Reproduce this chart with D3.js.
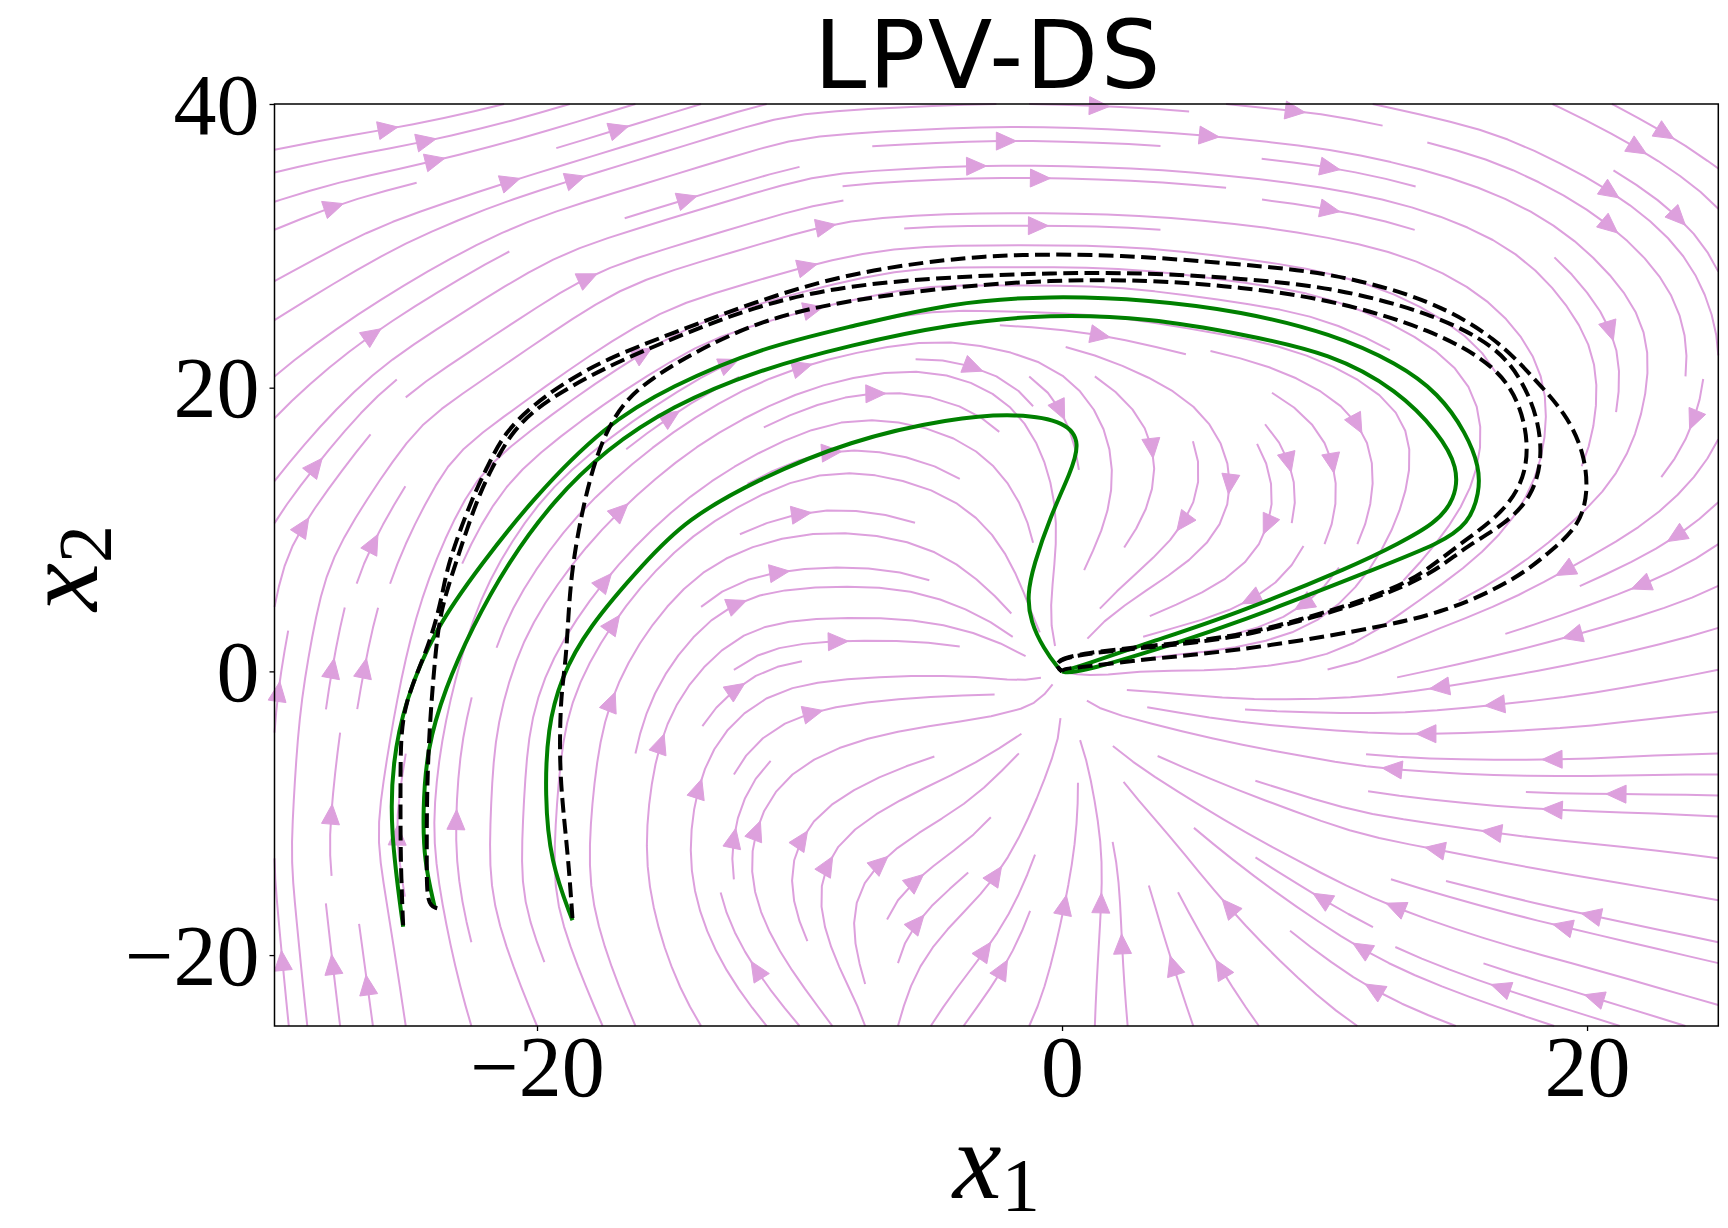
<!DOCTYPE html>
<html>
<head>
<meta charset="utf-8">
<script src="https://cdn.jsdelivr.net/npm/d3@7"></script>
<style>
  body { margin: 0; background: #fff; }
</style>
</head>
<body>
<div id="chart"></div>
<script>
// axes
const xDomain = [-30, 25];
const yDomain = [-25, 40];
const xTicks = [-20, 0, 20];
const yTicks = [-20, 0, 20, 40];

// demonstrations (green)
const demo1 = [[-25.1,-18.0],[-25.6,-11.1],[-25.5,-6.4],[-25.05,-2.2],[-23.9,3.0],[-22.1,7.6],[-20.2,12.1],[-17.4,17.4],[-14.9,20.1],[-11.5,22.8],[-8.06,24.3],[-4.25,26.0],[-0.45,26.5],[3.36,26.2],[6.8,25.4],[10.3,23.8],[12.8,21.7],[14.35,19.6],[15.4,16.8],[15.9,14.4],[15.9,12.6],[15.5,10.4],[14.35,9.0],[12.3,7.5],[6.5,3.25],[2.09,0.66],[0.32,-0.16],[0,0]];
const demo2 = [[-23.9,-16.6],[-24.3,-13.4],[-24.35,-9.9],[-24.2,-5.45],[-23.5,-1.2],[-22.5,3.0],[-21.1,7.7],[-19.35,12.1],[-17.4,15.6],[-14.9,18.7],[-11.5,21.3],[-8.06,23.0],[-4.25,24.5],[-0.45,25.2],[3.36,24.9],[6.8,23.8],[10.3,22.4],[12.8,19.8],[14.35,16.8],[15.1,14.4],[14.98,12.1],[14.2,10.4],[12.8,9.0],[11.2,7.5],[6.5,3.96],[3.36,2.07],[0.82,0.43],[0,0]];
const demo3 = [[-18.65,-17.55],[-19.5,-13.4],[-19.7,-8.7],[-19.6,-4.0],[-19.1,-0.5],[-18.1,3.0],[-15.9,7.7],[-14.3,10.7],[-11.7,13.45],[-8.06,16.3],[-4.25,17.85],[-1.7,18.2],[0.19,17.6],[0.7,16.1],[0.32,14.0],[-0.45,10.9],[-1.08,7.5],[-1.33,5.4],[-1.2,3.5],[-0.7,1.6],[-0.13,0.19],[0,0]];

// reproductions (black dashed)
const repro1 = [[-25.1,-17.9],[-25.2,-13.4],[-25.2,-8.7],[-25.2,-4.5],[-25.0,-2.2],[-24.5,0.2],[-24.0,2.5],[-23.6,5.4],[-23.4,7.6],[-22.5,12.1],[-21.9,14.4],[-21.25,16.8],[-20.2,18.7],[-19.0,20.3],[-17.4,22.0],[-14.9,23.8],[-11.5,26.2],[-8.06,28.1],[-4.25,29.1],[-1.7,29.4],[2.1,29.4],[6.8,28.7],[10.3,28.1],[14.1,26.2],[16.6,23.4],[17.9,20.8],[19.2,18.2],[19.9,15.4],[20.05,12.6],[19.7,10.2],[18.5,8.3],[17.3,6.5],[14.7,4.2],[11.55,2.9],[6.48,1.4],[3.36,0.9],[0.82,0.31],[0.06,0.19],[0,0]];
const repro2 = [[-23.8,-16.7],[-24.2,-16.5],[-24.2,-13.4],[-24.2,-8.7],[-24.1,-4.0],[-23.9,0.66],[-23.7,4.2],[-23.1,7.6],[-22.3,12.1],[-21.7,14.4],[-21.0,16.8],[-20.0,18.6],[-18.8,20.0],[-17.2,21.6],[-14.8,23.5],[-11.5,25.9],[-8.06,27.25],[-4.25,27.8],[-0.45,28.1],[3.36,28.1],[6.8,27.7],[10.3,27.1],[14.1,25.25],[16.6,22.9],[17.6,20.3],[18.15,17.7],[18.3,14.9],[17.9,12.3],[16.9,10.4],[15.4,8.8],[14.6,7.6],[13.45,6.3],[11.55,4.9],[9.0,3.5],[6.48,2.3],[3.36,1.7],[0.82,1.25],[-0.19,0.78],[-0.2,0.3],[0,0]];
const repro3 = [[-18.65,-17.4],[-18.8,-13.4],[-19.0,-9.9],[-19.15,-6.4],[-19.1,-1.7],[-18.9,0.66],[-18.8,4.2],[-18.65,7.6],[-18.2,12.1],[-17.6,16.1],[-16.7,19.1],[-15.5,20.8],[-14.3,22.2],[-11.5,24.8],[-8.06,26.2],[-4.25,27.1],[-0.45,27.6],[3.36,27.6],[6.8,27.1],[10.3,26.2],[14.1,24.1],[16.6,21.5],[17.5,18.7],[17.8,15.6],[17.5,13.0],[16.6,10.9],[15.4,9.3],[14.2,7.6],[13.3,6.4],[11.5,5.0],[9.0,3.6],[6.48,2.4],[3.36,1.8],[0.82,1.3],[-0.2,0.8],[-0.2,0.3],[0,0]];

// flow direction of the stream field read at points of the figure: [x1, x2, screen angle in degrees]
const flowSamples = [
  [-28.35,38.9,8],[-25.5,38.1,8],[-23.9,37.0,12],[-22.3,35.6,15],[-19.4,34.8,17],[-16.2,35.1,17],
  [-29.5,34.0,14],[-29.5,27.4,27],[-27.8,28.4,33],[-22.6,29.9,30],[-22.0,25.6,32],[-21.6,22.8,35],
  [-28.7,21.9,40],[-12.1,30.4,18],[-28.6,15.6,50],[-26.95,11.2,57],[-16.3,13.6,42],[-17.25,9.0,45],
  [-11.9,12.6,35],[-19.1,18.6,37],[-16.1,20.1,30],[-20.2,8.4,58],
  [-4.25,38.4,2],[2.47,39.1,-3],[1.2,37.5,-2],[-6.4,35.0,4],[-1.53,34.3,0],[6.15,39.8,-5],
  [-11.6,29.6,15],[-1.6,29.1,0],[2.6,20.8,-5],[-2.7,16.8,-5],[-5.1,15.2,0],[-4.7,13.5,-25],
  [-7.6,11.8,-5],[-8.05,8.5,0],[0.8,14.6,-95],[1.6,13.7,-115],[3.9,13.2,-130],[5.3,12.1,-140],
  [4.5,9.1,-145],[-1.3,14.4,-85],[-1.46,15.4,-60],[-3.0,11.5,-55],[-5.5,10.9,-18],[-10.6,16.8,25],
  [-8.1,23.8,12],[5.0,23.8,-8],[-0.45,26.5,0],[6.15,25.7,-10],[3.4,32.1,-3],[6.8,36.8,-7],
  [2.2,15.8,-60],[3.6,16.9,-20],[5.0,14.6,-90],
  [22.1,38.6,-28],[21.5,36.9,-28],[19.9,36.2,-22],[19.2,34.6,-28],[11.4,31.2,-10],[21.2,29.6,-45],
  [18.2,26.1,-50],[24.2,13.7,-140],[11.55,12.8,-70],[11.2,22.1,-25],[22.7,33.2,-45],[24.75,26.2,-70],
  [24.9,19.2,-95],[21.3,19.2,-95],[22.7,16.9,-105],[19.2,23.9,-60],[19.2,16.8,-95],[22.7,12.1,-145],
  [6.5,25.3,-5],[14.1,21.5,-30],[15.35,16.8,-80],[14.7,11.2,-125],[13.6,8.6,-150],[8.4,19.9,-15],
  [6.5,16.2,-25],[7.75,14.9,-45],[8.4,12.8,-95],[8.1,10.7,-120],[9.5,13.7,-45],[10.4,10.9,-90],
  [10.0,8.3,-130],[12.0,10.0,-95],[11.7,7.9,-115],[17.5,5.5,-155],[20.0,9.5,-148],[16.8,14.0,-95],
  [16.6,10.5,-135],[15.4,33.2,-18],[15.4,28.5,-28],[14.0,38.5,-12],
  [-29.7,3.1,80],[-26.4,2.4,80],[-24.4,6.4,70],[-26.3,-4.5,80],[-29.8,-6.4,88],[-21.0,-9.2,88],
  [-24.4,-17.6,100],[-20.4,-20.8,110],[-18.8,-22.3,115],[-16.0,-1.7,72],[-15.6,-7.1,85],[-14.5,-9.7,90],
  [-12.9,-10.9,90],[-19.5,-11.1,88],[-29.1,-20.5,95],[-13.6,2.0,45],[-12.4,-4.0,25],[-12.6,-7.6,60],
  [-13.6,-17.0,110],[-11.7,-20.5,120],[-17.4,-8.7,80],[-16.2,-15.8,100],[-26.0,-23.0,98],[-22.0,0.0,75],
  [-18.0,3.5,55],
  [-10.2,5.9,8],[-8.75,4.1,0],[-6.8,2.3,-5],[-3.0,1.8,-10],[-8.6,-2.4,8],[-4.25,-1.2,5],
  [-7.9,-6.5,17],[-8.9,-9.2,28],[-6.4,-9.9,25],[-7.6,-12.9,30],[-5.8,-13.0,30],[-5.1,-15.7,37],
  [-4.25,-19.3,45],[-0.32,-13.9,65],[-0.32,-19.3,70],[1.45,-18.96,88],[3.35,-22.1,95],[4.75,-19.3,118],
  [6.15,-16.5,132],[6.3,5.2,-160],[4.0,4.4,-155],[0.8,2.3,-140],[4.5,-3.6,168],[4.5,-7.6,155],
  [3.35,-11.1,129],[1.59,-15.1,90],[-1.33,-6.86,50],[0.56,-6.4,92],[-10.7,-13.0,92],[-9.9,-21.0,145],
  [-9.9,-18.1,140],[-8.2,-19.6,125],[-4.0,-23.8,55],[-2.7,5.8,-40],[-1.14,5.6,-70],[0.57,7.0,-125],
  [0.6,3.95,-130],[4.6,-0.75,180],[3.4,-1.65,165],[-6.8,0.2,2],[-3.0,-0.7,12],[-8.5,-17.3,92],
  [-8.06,-15.6,45],[-10.3,-15.8,115],[-10.0,-10.3,35],[-1.8,0.5,-10],[2.2,-0.3,175],
  [21.8,7.3,-160],[14.7,3.6,-165],[15.5,1.5,-167],[21.3,1.8,-165],[19.9,0.1,-168],[15.9,-3.1,-176],
  [21.0,-2.0,-172],[18.3,-4.6,180],[13.1,-5.6,178],[22.2,-7.3,179],[18.3,-8.4,177],[14.5,-10.3,173],
  [13.5,-12.2,170],[17.3,-16.0,168],[22.3,-16.4,170],[15.2,-17.4,162],[13.1,-19.1,155],[10.6,-20.1,145],
  [7.7,-22.4,125],[14.9,-22.6,160],[21.3,-23.2,162],[9.2,6.8,-155],[11.3,6.1,-155],[8.5,1.0,-172],
  [8.5,-2.5,178],[8.9,-7.8,165],[8.4,-11.8,155],[9.0,-16.7,150]
];

const margin = { top: 104, left: 274.5 };
const width = 1443.8;
const height = 922;

const svg = d3.select("#chart")
  .append("svg")
  .attr("width", 1728)
  .attr("height", 1228);

const g = svg.append("g").attr("transform", `translate(${margin.left},${margin.top})`);

const x = d3.scaleLinear().domain(xDomain).range([0, width]);
const y = d3.scaleLinear().domain(yDomain).range([height, 0]);

// ---- direction field on a fine grid (axes fractions), screen-space vectors ----
const GN = 221;
const gu = new Float64Array(GN * GN);
const gv = new Float64Array(GN * GN);
const samplesPx = flowSamples.map(([sx, sy, a]) => [x(sx), y(sy), Math.cos(a * Math.PI / 180), Math.sin(a * Math.PI / 180)]);
const ox = x(0), oy = y(0);
const sig2 = 2 * 50 * 50;
for (let j = 0; j < GN; j++) {
  const py = height * (1 - j / (GN - 1));
  for (let i = 0; i < GN; i++) {
    const px = width * i / (GN - 1);
    let su = 0, sv = 0, sw = 0;
    for (const s of samplesPx) {
      const dx = px - s[0], dy = py - s[1];
      const w = Math.exp(-(dx * dx + dy * dy) / sig2);
      su += w * s[2]; sv += w * s[3]; sw += w;
    }
    if (sw > 1e-200) { su /= sw; sv /= sw; }
    // pull into the attractor at the origin
    const rx = ox - px, ry = py - oy;
    const r = Math.hypot(rx, ry);
    if (r > 0) {
      const wr = 3 * Math.exp(-r * r / (2 * 22 * 22));
      su += wr * rx / r; sv += wr * ry / r;
    }
    gu[j * GN + i] = su; gv[j * GN + i] = sv;
  }
}

const OUT = 1, STOP = 2;
const oxA = ox / width, oyA = 1 - oy / height;
function flow(ax, ay, sgn) {
  if (ax < 0 || ax > 1 || ay < 0 || ay > 1) return OUT;
  if (Math.hypot((ax - oxA) * width, (ay - oyA) * height) < 2) return STOP;
  const fx = ax * (GN - 1), fy = ay * (GN - 1);
  const i0 = Math.min(GN - 2, Math.floor(fx)), j0 = Math.min(GN - 2, Math.floor(fy));
  const tx = fx - i0, ty = fy - j0;
  const k = j0 * GN + i0;
  const u = (gu[k] * (1 - tx) + gu[k + 1] * tx) * (1 - ty) + (gu[k + GN] * (1 - tx) + gu[k + GN + 1] * tx) * ty;
  const v = (gv[k] * (1 - tx) + gv[k + 1] * tx) * (1 - ty) + (gv[k + GN] * (1 - tx) + gv[k + GN + 1] * tx) * ty;
  const du = u / width, dv = v / height;
  const s = Math.hypot(du, dv);
  if (s < 1e-12) return STOP;
  return [sgn * du / s, sgn * dv / s];
}

// ---- streamplot in the matplotlib manner ----
const NX = 45, NY = 45;
const mask = new Uint8Array(NX * NY);
let traj = [], cur = null;
function maskIdx(ax, ay) { return [Math.floor(ax * (NX - 1) + 0.5), Math.floor(ay * (NY - 1) + 0.5)]; }
function updateTraj(ax, ay) {
  if (ax < 0 || ax > 1 || ay < 0 || ay > 1) return false;
  const [xm, ym] = maskIdx(ax, ay);
  if (cur && cur[0] === xm && cur[1] === ym) return true;
  const id = ym * NX + xm;
  if (mask[id] === 0) { traj.push(id); mask[id] = 1; cur = [xm, ym]; return true; }
  return false;
}

function rk12(x0, y0, sgn) {
  const maxerror = 0.003, maxds = Math.min(1 / NX, 1 / NY, 0.1), maxlength = 4;
  let ds = maxds, stotal = 0, xi = x0, yi = y0;
  const pts = [];
  for (let it = 0; it < 20000; it++) {
    pts.push([xi, yi]);
    const k1 = flow(xi, yi, sgn);
    if (k1 === STOP || k1 === OUT) break;
    const k2 = flow(xi + ds * k1[0], yi + ds * k1[1], sgn);
    if (k2 === OUT) {
      const cx = k1[0], cy = k1[1];
      const dsx = cx === 0 ? Infinity : (cx < 0 ? xi / -cx : (1 - xi) / cx);
      const dsy = cy === 0 ? Infinity : (cy < 0 ? yi / -cy : (1 - yi) / cy);
      const d = Math.min(dsx, dsy);
      pts.push([xi + cx * d, yi + cy * d]);
      stotal += d;
      break;
    }
    if (k2 === STOP) break;
    const dx1 = ds * k1[0], dy1 = ds * k1[1];
    const dx2 = ds * 0.5 * (k1[0] + k2[0]), dy2 = ds * 0.5 * (k1[1] + k2[1]);
    const err = Math.hypot(dx2 - dx1, dy2 - dy1);
    if (err < maxerror) {
      xi += dx2; yi += dy2;
      if (!updateTraj(xi, yi)) break;
      if (stotal + ds > maxlength) break;
      stotal += ds;
    }
    ds = err === 0 ? maxds : Math.min(maxds, 0.85 * ds * Math.sqrt(maxerror / err));
  }
  return [stotal, pts];
}

function integrate(x0, y0) {
  traj = []; cur = null;
  if (!updateTraj(x0, y0)) return null;
  const [sb, pb] = rk12(x0, y0, -1);
  cur = maskIdx(x0, y0);
  const [sf, pf] = rk12(x0, y0, 1);
  if (sb + sf > 0.1) return pb.reverse().concat(pf.slice(1));
  for (const id of traj) mask[id] = 0;
  return null;
}

function* startingPoints(nx, ny) {
  let xfirst = 0, yfirst = 1, xlast = nx - 1, ylast = ny - 1;
  let xi = 0, yi = 0, dir = "right";
  for (let i = 0; i < nx * ny; i++) {
    yield [xi, yi];
    if (dir === "right") { xi += 1; if (xi >= xlast) { xlast -= 1; dir = "up"; } }
    else if (dir === "up") { yi += 1; if (yi >= ylast) { ylast -= 1; dir = "left"; } }
    else if (dir === "left") { xi -= 1; if (xi <= xfirst) { xfirst += 1; dir = "down"; } }
    else { yi -= 1; if (yi <= yfirst) { yfirst += 1; dir = "right"; } }
  }
}

const streams = [];
for (const [xm, ym] of startingPoints(NX, NY)) {
  if (mask[ym * NX + xm] !== 0) continue;
  const t = integrate(xm / (NX - 1), ym / (NY - 1));
  if (t) streams.push(t.map(([ax, ay]) => [
    xDomain[0] + ax * (xDomain[1] - xDomain[0]),
    yDomain[0] + ay * (yDomain[1] - yDomain[0])
  ]));
}

const streamColor = "#dda0dd";
const line = d3.line().x(d => x(d[0])).y(d => y(d[1]));

g.append("g")
  .selectAll("path")
  .data(streams)
  .join("path")
  .attr("d", line)
  .attr("fill", "none")
  .attr("stroke", streamColor)
  .attr("stroke-width", 2)
  .attr("stroke-linejoin", "round");

// arrow heads at the middle of each stream line
const arrows = [];
for (const t of streams) {
  if (t.length < 2) continue;
  const s = [];
  let acc = 0;
  for (let i = 1; i < t.length; i++) { acc += Math.hypot(t[i][0] - t[i - 1][0], t[i][1] - t[i - 1][1]); s.push(acc); }
  let n = s.findIndex(v => v >= acc / 2);
  if (n < 0) n = s.length - 1;
  const n2 = Math.min(n + 1, t.length - 1);
  const tail = t[n];
  const head = [(t[n][0] + t[n2][0]) / 2, (t[n][1] + t[n2][1]) / 2];
  const hx = x(head[0]), hy = y(head[1]);
  let dx = hx - x(tail[0]), dy = hy - y(tail[1]);
  const L = Math.hypot(dx, dy);
  if (L === 0) continue;
  dx /= L; dy /= L;
  const len = 20, hw = 9;
  const bx = hx - dx * len, by = hy - dy * len;
  arrows.push([[hx, hy], [bx - dy * hw, by + dx * hw], [bx + dy * hw, by - dx * hw]]);
}

g.append("g")
  .selectAll("path")
  .data(arrows)
  .join("path")
  .attr("d", d => "M" + d.map(p => p.join(",")).join("L") + "Z")
  .attr("fill", streamColor)
  .attr("stroke", streamColor)
  .attr("stroke-width", 1);

// demonstrations and reproductions
const smooth = d3.line().x(d => x(d[0])).y(d => y(d[1])).curve(d3.curveBasis);

g.append("g")
  .selectAll("path")
  .data([demo1, demo2, demo3])
  .join("path")
  .attr("d", smooth)
  .attr("fill", "none")
  .attr("stroke", "#008000")
  .attr("stroke-width", 4);

g.append("g")
  .selectAll("path")
  .data([repro1, repro2, repro3])
  .join("path")
  .attr("d", smooth)
  .attr("fill", "none")
  .attr("stroke", "#000")
  .attr("stroke-width", 4)
  .attr("stroke-dasharray", "14.8,6.4");

// frame and ticks
g.append("rect")
  .attr("width", width)
  .attr("height", height)
  .attr("fill", "none")
  .attr("stroke", "#000")
  .attr("stroke-width", 1.5);

const tickFont = "'Liberation Serif', 'DejaVu Serif', serif";
const fmt = v => (v < 0 ? "\u2212" + Math.abs(v) : String(v));

g.append("g")
  .attr("transform", `translate(0,${height})`)
  .call(d3.axisBottom(x).tickValues(xTicks).tickSize(5).tickPadding(8).tickFormat(fmt))
  .call(a => a.select(".domain").remove())
  .call(a => a.selectAll("line").attr("stroke-width", 1.3))
  .call(a => a.selectAll("text")
    .attr("font-family", tickFont)
    .attr("font-size", 86)
    .attr("fill", "#000")
    .attr("dy", null)
    .attr("y", 70));

g.append("g")
  .call(d3.axisLeft(y).tickValues(yTicks).tickSize(5).tickFormat(fmt))
  .call(a => a.select(".domain").remove())
  .call(a => a.selectAll("line").attr("stroke-width", 1.3))
  .call(a => a.selectAll("text")
    .attr("font-family", tickFont)
    .attr("font-size", 86)
    .attr("fill", "#000")
    .attr("dy", null)
    .attr("x", -15)
    .attr("y", 29));

// title and axis labels
svg.append("text")
  .attr("x", margin.left + width / 2 - 8)
  .attr("y", 88)
  .attr("text-anchor", "middle")
  .attr("font-family", "'DejaVu Sans', sans-serif")
  .attr("font-size", 94)
  .attr("letter-spacing", 2.5)
  .text("LPV-DS");

const xl = svg.append("text")
  .attr("x", margin.left + width / 2)
  .attr("y", 1198)
  .attr("text-anchor", "middle")
  .attr("font-family", tickFont)
  .attr("font-size", 110);
xl.append("tspan").attr("font-style", "italic").text("x");
xl.append("tspan").attr("font-size", 77).attr("dy", 13).text("1");

const yl = svg.append("text")
  .attr("transform", "translate(97,568) rotate(-90)")
  .attr("text-anchor", "middle")
  .attr("font-family", tickFont)
  .attr("font-size", 108);
yl.append("tspan").attr("font-style", "italic").text("x");
yl.append("tspan").attr("font-size", 76).attr("dy", 14).text("2");
</script>
</body>
</html>
